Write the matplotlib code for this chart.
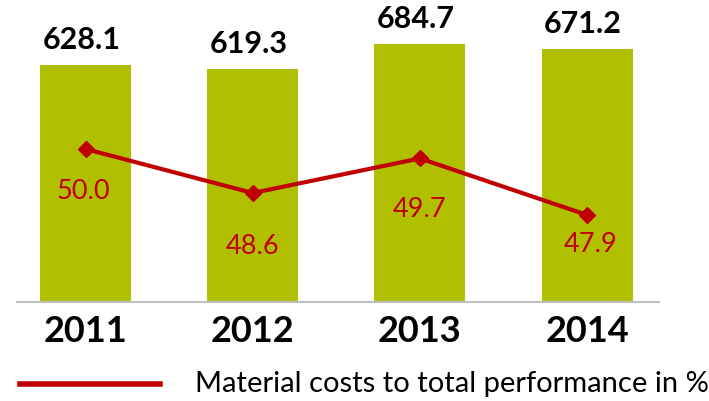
import numpy as np
import matplotlib
matplotlib.use("Agg")
import matplotlib.pyplot as plt

plt.rcParams['font.family'] = ['Lato', 'DejaVu Sans']

# data
years = ["2011", "2012", "2013", "2014"]
costs = [628.1, 619.3, 684.7, 671.2]
share = [50.0, 48.6, 49.7, 47.9]
# label offsets below the points (px) as in the original
share_dy = [42, 52, 50, 28]
share_dx = [-2, 0, 0, 3]

bar_col = '#b0c000'
red = '#c00000'

fig = plt.figure(figsize=(7.09, 4.02), dpi=100)
ax = fig.add_axes([17/709, 1 - 302.5/402, 642/709, 292.5/402])
x = np.arange(len(years)) * 1.0

ax.bar(x, costs, width=0.545, color=bar_col, zorder=2)
ax.set_xlim(-0.41, 3.43)
ax.set_ylim(0, 684.7 * 292.5 / 257.5)
for xi, v in zip(x, costs):
    ax.annotate(f"{v:.1f}", (xi, v), xytext=(-4, 12), textcoords='offset pixels',
                ha='center', va='bottom', fontsize=22, fontweight='bold', color='black')

for s in ['top', 'right', 'left']:
    ax.spines[s].set_visible(False)
ax.spines['bottom'].set_color('#bfbfbf')
ax.spines['bottom'].set_linewidth(1.5)
ax.set_yticks([])
ax.set_xticks(x)
ax.set_xticklabels(years, fontsize=26, fontweight='bold')
ax.tick_params(axis='x', length=0, pad=9)

ax2 = ax.twinx()
ax2.set_ylim(50 - 152.5 / 31.43, 50 + 140 / 31.43)
ax2.plot(x, share, color=red, lw=3, marker='D', markersize=8, zorder=3,
         label="Material costs to total performance in %")
for xi, v, dy, dx in zip(x, share, share_dy, share_dx):
    ax2.annotate(f"{v:.1f}", (xi, v), xytext=(dx, -dy), textcoords='offset pixels',
                 ha='center', va='center', fontsize=19.5, color=red)
ax2.axis('off')

# legend
fig.lines.append(plt.Line2D([20/709, 160/709], [1 - 385/402] * 2, color=red, lw=4,
                            transform=fig.transFigure))
fig.text(195/709, 1 - 384/402, "Material costs to total performance in %",
         fontsize=21, color='black', va='center', ha='left')

fig.savefig("out.png", dpi=100)
